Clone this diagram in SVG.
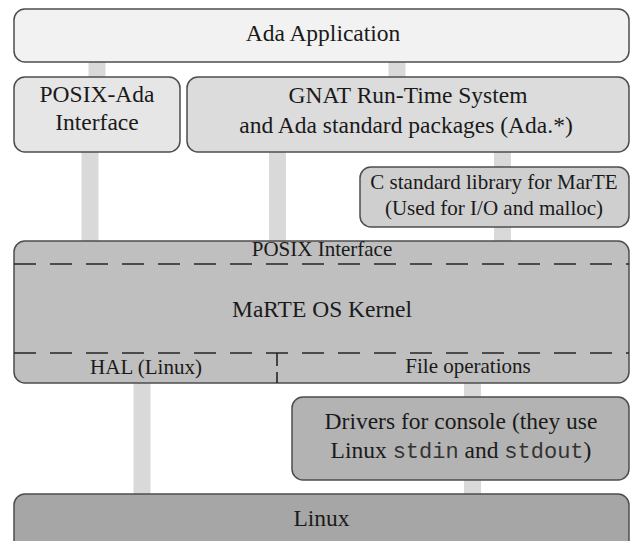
<svg xmlns="http://www.w3.org/2000/svg" width="631" height="541" viewBox="0 0 631 541">
  <style>
    .box { stroke: #4d4d4d; stroke-width: 1.5; }
    .bar { stroke: #d9d9d9; stroke-width: 17; fill: none; }
    text { font-family: 'Liberation Serif', 'DejaVu Serif', 'Noto Serif', serif; fill: #1a1a1a; text-anchor: middle; }
    .t { font-size: 23.5px; }
    .s { font-size: 21px; }
    .mono { font-family: 'Liberation Mono', 'DejaVu Sans Mono', monospace; font-size: 22px; fill: #333333; }
    .dash { stroke: #262626; stroke-width: 1.6; stroke-dasharray: 22 14; fill: none; }
  </style>
  <rect width="631" height="541" fill="#ffffff"/>

  <g id="connectors">
    <line class="bar" x1="97" y1="62" x2="97" y2="77"/>
    <line class="bar" x1="397" y1="62" x2="397" y2="77"/>
    <line class="bar" x1="90" y1="152" x2="90" y2="241"/>
    <line class="bar" x1="277.5" y1="152" x2="277.5" y2="241"/>
    <line class="bar" x1="502.5" y1="152" x2="502.5" y2="167"/>
    <line class="bar" x1="502.5" y1="227" x2="502.5" y2="241"/>
    <line class="bar" x1="142" y1="383" x2="142" y2="494"/>
    <line class="bar" x1="472.5" y1="383" x2="472.5" y2="397"/>
    <line class="bar" x1="472.5" y1="480" x2="472.5" y2="494"/>
  </g>

  <g id="ada-application">
    <rect class="box" x="14" y="9" width="615" height="53" rx="11" fill="#f2f2f2"/>
    <text class="t" x="323" y="41" font-family="Liberation Serif, serif">Ada Application</text>
  </g>

  <g id="posix-ada-interface">
    <rect class="box" x="14" y="77" width="166" height="75" rx="11" fill="#e6e6e6"/>
    <text class="t" x="97" y="102">POSIX-Ada</text>
    <text class="t" x="97" y="130">Interface</text>
  </g>

  <g id="gnat-rts">
    <rect class="box" x="187" y="77" width="442" height="75" rx="11" fill="#dcdcdc"/>
    <text class="t" x="408" y="103">GNAT Run-Time System</text>
    <text class="t" x="406" y="133">and Ada standard packages (Ada.*)</text>
  </g>

  <g id="c-library">
    <rect class="box" x="360" y="167" width="269" height="60" rx="11" fill="#cfcfcf"/>
    <text class="s" x="494" y="189">C standard library for MarTE</text>
    <text class="s" x="494" y="215">(Used for I/O and malloc)</text>
  </g>

  <g id="marte-kernel">
    <rect class="box" x="14" y="241" width="615" height="142" rx="11" fill="#bfbfbf"/>
    <line class="dash" x1="14" y1="264" x2="629" y2="264"/>
    <line class="dash" x1="14" y1="353" x2="629" y2="353"/>
    <line x1="277" y1="353" x2="277" y2="383" stroke="#262626" stroke-width="1.6" stroke-dasharray="13 6"/>
    <text class="s" x="322" y="256">POSIX Interface</text>
    <text class="t" x="322" y="317">MaRTE OS Kernel</text>
    <text class="s" x="146" y="374">HAL (Linux)</text>
    <text class="s" x="468" y="373">File operations</text>
  </g>

  <g id="console-drivers">
    <rect class="box" x="292" y="397" width="337" height="83" rx="11" fill="#b3b3b3"/>
    <text class="t" x="461" y="429">Drivers for console (they use</text>
    <text class="t" x="461" y="458">Linux <tspan class="mono">stdin</tspan> and <tspan class="mono">stdout</tspan>)</text>
  </g>

  <g id="linux">
    <rect class="box" x="14" y="494" width="615" height="60" rx="11" fill="#a6a6a6"/>
    <text class="t" x="321.5" y="526">Linux</text>
  </g>
</svg>
